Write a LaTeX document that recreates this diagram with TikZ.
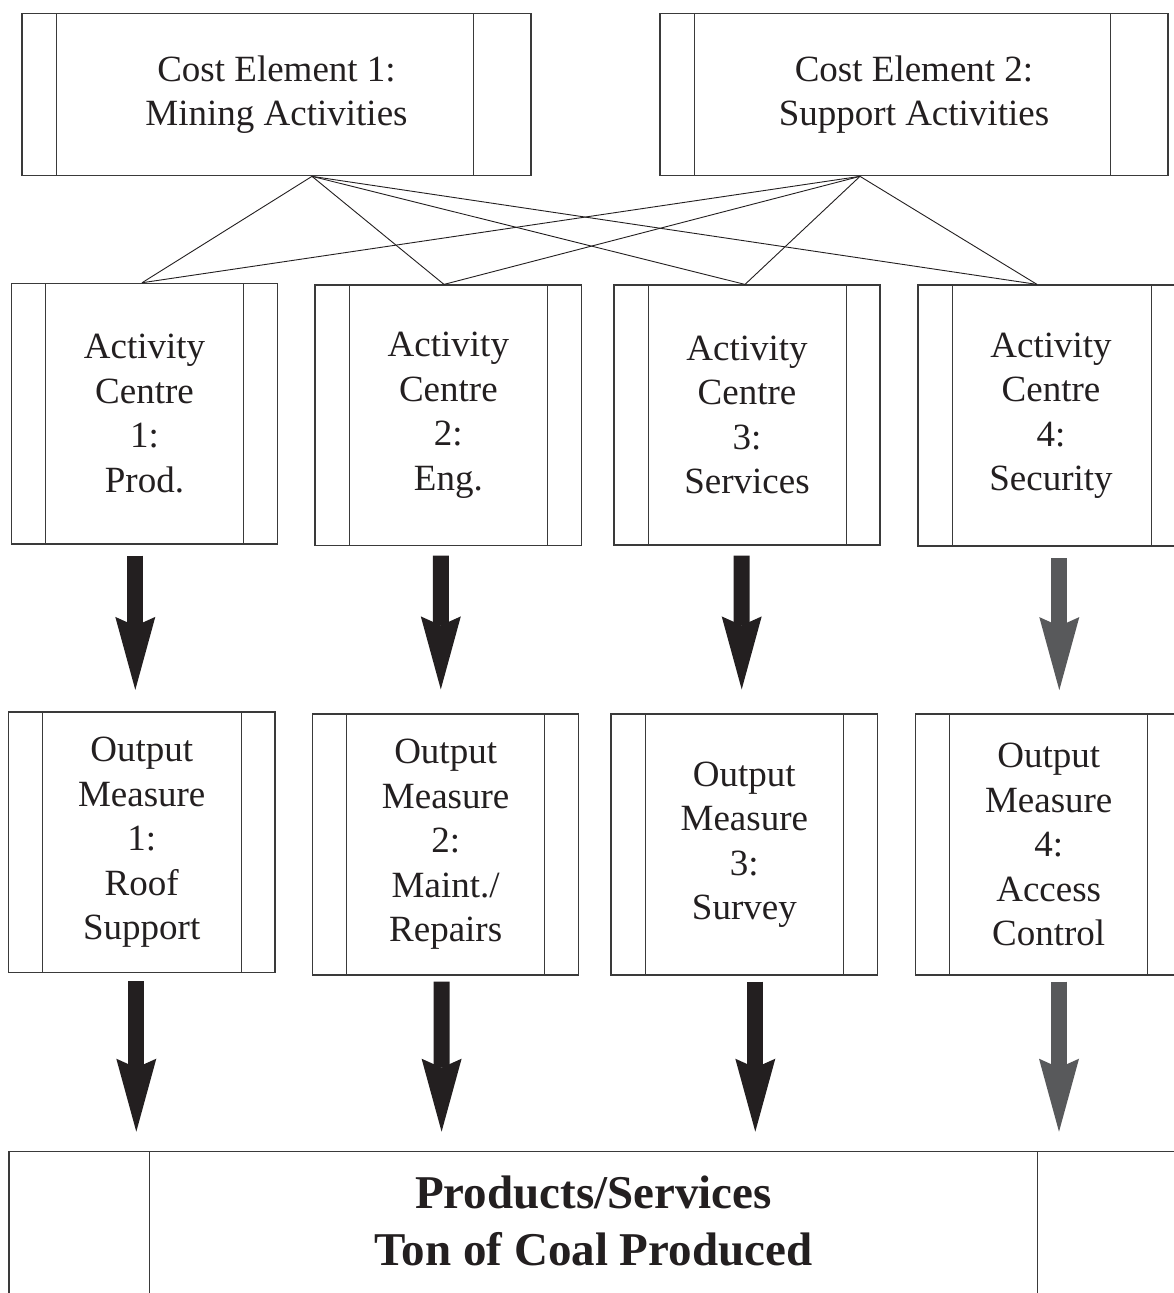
\documentclass[tikz,border=0pt]{standalone}
\usepackage{fontspec}
\setmainfont{Liberation Serif}
\usetikzlibrary{arrows.meta}
\definecolor{ink}{HTML}{231F20}
\definecolor{greyarrow}{HTML}{58595B}
\definecolor{frame}{HTML}{3A3A3A}
\begin{document}
\begin{tikzpicture}[x=1pt,y=-1pt,
  barline/.style={draw=frame, line width=1pt},
  bars/.style 2 args={path picture={
     \draw[barline] ([xshift=#1]path picture bounding box.north west) -- ([xshift=#1]path picture bounding box.south west);
     \draw[barline] ([xshift=-#2]path picture bounding box.north east) -- ([xshift=-#2]path picture bounding box.south east);}},
  box/.style={draw=frame, line width=1.2pt, rectangle, inner sep=0pt, align=center, text=ink,
              font=\fontsize{37}{44.5}\selectfont},
  bigtext/.style={inner sep=0pt, align=center, text=ink, font=\bfseries\fontsize{47}{57}\selectfont},
  link/.style={draw=ink, line width=0.9pt},
  fat/.style={line width=16pt, draw=ink, -{Stealth[length=73pt,width=40pt,inset=9pt,line width=0pt]}},
  fatgrey/.style={fat, draw=greyarrow},
]
\fill[white] (0,0) rectangle (1174,1293);
\useasboundingbox (0,0) rectangle (1174,1293);

% cost elements
\node[box, bars={34pt}{58pt}, minimum width=509pt, minimum height=162.5pt] (ce1) at (276.5,94.5) {Cost Element 1:\\Mining Activities};
\node[box, bars={34pt}{58pt}, minimum width=508pt, minimum height=162.5pt] (ce2) at (914,94.5) {Cost Element 2:\\Support Activities};

% activity centres
\node[box, bars={34pt}{34pt}, minimum width=266.7pt, minimum height=260.7pt] (ac1) at (144.5,413.7) {Activity\\Centre\\1:\\Prod.};
\node[box, bars={34pt}{34pt}, minimum width=266.7pt, minimum height=260.7pt] (ac2) at (448.35,415.35) {Activity\\Centre\\2:\\Eng.};
\node[box, bars={34pt}{34pt}, minimum width=266pt, minimum height=260pt] (ac3) at (747,415) {Activity\\Centre\\3:\\Services};
\node[box, bars={34pt}{33pt}, minimum width=266pt, minimum height=261pt] (ac4) at (1051,415.5) {Activity\\Centre\\4:\\Security};

% output measures
\node[box, bars={34pt}{34pt}, minimum width=266.6pt, minimum height=260.7pt] (om1) at (141.7,842.35) {Output\\Measure\\1:\\Roof\\Support};
\node[box, bars={34pt}{34pt}, minimum width=266pt, minimum height=261pt] (om2) at (445.65,844.5) {Output\\Measure\\2:\\Maint./\\Repairs};
\node[box, bars={34pt}{34pt}, minimum width=266.7pt, minimum height=261pt] (om3) at (744.35,844.5) {Output\\Measure\\3:\\Survey};
\node[box, bars={34pt}{34pt}, minimum width=266pt, minimum height=261pt] (om4) at (1048.7,844.5) {Output\\Measure\\4:\\Access\\Control};

% products / services
\node[box, bars={140.7pt}{140.7pt}, minimum width=1169pt, minimum height=150pt, anchor=north] (prod) at (593.5,1151) {};
\node[bigtext] (prodlabel) at (593.5,1221) {Products/Services\\Ton of Coal Produced};

% connection points
\coordinate (ce1apex) at ([xshift=35.5pt]ce1.south);
\coordinate (ce2apex) at ([xshift=-54pt]ce2.south);
\coordinate (ac1top) at ([xshift=-2.5pt]ac1.north);
\coordinate (ac2top) at ([xshift=-4.35pt]ac2.north);
\coordinate (ac3top) at ([xshift=-2pt]ac3.north);
\coordinate (ac4top) at ([xshift=-14pt]ac4.north);

\foreach \t in {ac1top,ac2top,ac3top,ac4top}{
  \draw[link] (ce1apex) -- (\t);
  \draw[link] (ce2apex) -- (\t);
}

% arrows activity -> output
\draw[fat] ([xshift=-9.2pt,yshift=-11pt]ac1.south) -- ([xshift=-6.4pt,yshift=21.5pt]om1.north);
\draw[fat] ([xshift=-7.55pt,yshift=-9.3pt]ac2.south) -- ([xshift=-4.85pt,yshift=24pt]om2.north);
\draw[fat] ([xshift=-5.3pt,yshift=-10pt]ac3.south) -- ([xshift=-2.65pt,yshift=24pt]om3.north);
\draw[fatgrey] ([xshift=8.3pt,yshift=-11.7pt]ac4.south) -- ([xshift=10.6pt,yshift=23.3pt]om4.north);

% arrows output -> products
\draw[fat] ([xshift=-5.4pt,yshift=-8pt]om1.south) -- ([xshift=-457.2pt,yshift=19.3pt]prod.north);
\draw[fat] ([xshift=-4.05pt,yshift=-6pt]om2.south) -- ([xshift=-151.9pt,yshift=19.3pt]prod.north);
\draw[fat] ([xshift=10.95pt,yshift=-6pt]om3.south) -- ([xshift=161.8pt,yshift=19.3pt]prod.north);
\draw[fatgrey] ([xshift=10.3pt,yshift=-6pt]om4.south) -- ([xshift=465.5pt,yshift=19.3pt]prod.north);
\end{tikzpicture}
\end{document}
